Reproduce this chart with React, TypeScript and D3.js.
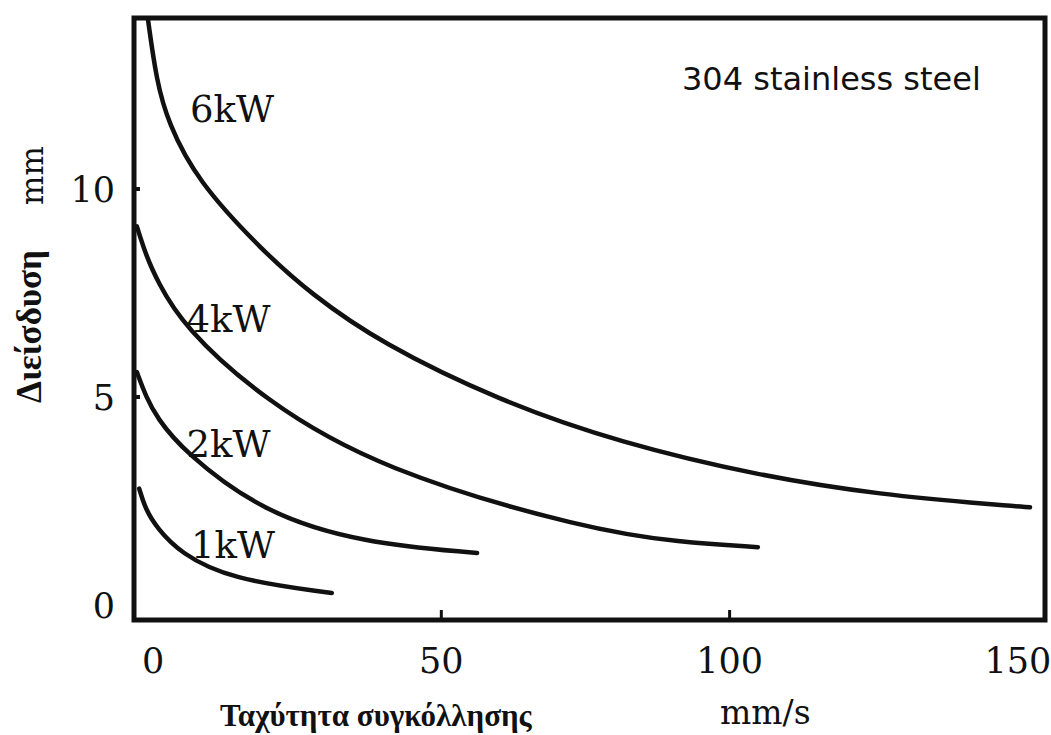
import React, { useEffect, useRef } from "react";
import * as d3 from "d3";

// penetration (mm) vs welding speed (mm/s)
const series = ["6kW", "4kW", "2kW", "1kW"];
const curve6kW: [number, number][] = [
  [-0.9, 14.1], [0.6, 12.6], [2.6, 11.6], [7.6, 10.2], [19.1, 8.5], [27.2, 7.5], [39.4, 6.3],
  [60.2, 4.9], [81.0, 3.9], [105.3, 3.1], [126.1, 2.65], [146.9, 2.4], [152.1, 2.35],
];
const curve4kW: [number, number][] = [
  [-2.8, 9.1], [-1.2, 8.4], [0.7, 7.8], [5.2, 6.7], [19.1, 4.93], [39.4, 3.25],
  [75.8, 1.8], [91.4, 1.51], [104.9, 1.39],
];
const curve2kW: [number, number][] = [
  [-2.8, 5.6], [-1.2, 5.0], [0.7, 4.5], [5.2, 3.7], [19.1, 2.21], [36.4, 1.49], [56.2, 1.25],
];
const curve1kW: [number, number][] = [
  [-2.4, 2.8], [-1.3, 2.3], [0.7, 1.85], [4.7, 1.25], [13.4, 0.62], [31.0, 0.29],
];
const curves = [curve6kW, curve4kW, curve2kW, curve1kW];

const xTicks = [0, 50, 100, 150];
const yTicks = [0, 5, 10];
const xMarks = [50, 100];
const yMarks = [5, 10];

const material = "304 stainless steel";
const xTitle = "Ταχύτητα συγκόλλησης";
const xUnit = "mm/s";
const yTitle = "Διείσδυση";
const yUnit = "mm";

const width = 1051;
const height = 735;
const frame = { left: 134, right: 1045, top: 18, bottom: 620 };

// where each power label sits, in data units
const labelAt: Record<string, [number, number]> = {
  "6kW": [6.4, 11.6],
  "4kW": [5.8, 6.56],
  "2kW": [5.8, 3.56],
  "1kW": [6.6, 1.13],
};

const App = () => {
  const ref = useRef<SVGSVGElement>(null);

  useEffect(() => {
    const svg = d3.select(ref.current);
    svg.selectAll("*").remove();

    const x = d3.scaleLinear().domain([-3.3, 154.7]).range([frame.left, frame.right]);
    const y = d3.scaleLinear().domain([-0.36, 14.11]).range([frame.bottom, frame.top]);

    const tickFont = "'DejaVu Serif', serif";

    // curves
    const line = d3
      .line<[number, number]>()
      .x((d) => x(d[0]))
      .y((d) => y(d[1]))
      .curve(d3.curveBasis);

    svg
      .append("g")
      .selectAll("path")
      .data(curves)
      .join("path")
      .attr("d", (d) => line(d))
      .attr("fill", "none")
      .attr("stroke", "#111")
      .attr("stroke-width", 4.5)
      .attr("stroke-linecap", "round");

    // frame
    svg
      .append("rect")
      .attr("x", frame.left)
      .attr("y", frame.top)
      .attr("width", frame.right - frame.left)
      .attr("height", frame.bottom - frame.top)
      .attr("fill", "none")
      .attr("stroke", "#111")
      .attr("stroke-width", 5);

    // small inner tick marks
    svg
      .append("g")
      .selectAll("line")
      .data(xMarks)
      .join("line")
      .attr("x1", (d) => x(d))
      .attr("x2", (d) => x(d))
      .attr("y1", frame.bottom)
      .attr("y2", frame.bottom - 10)
      .attr("stroke", "#111")
      .attr("stroke-width", 3);

    svg
      .append("g")
      .selectAll("line")
      .data(yMarks)
      .join("line")
      .attr("x1", frame.left)
      .attr("x2", frame.left + 6)
      .attr("y1", (d) => y(d))
      .attr("y2", (d) => y(d))
      .attr("stroke", "#111")
      .attr("stroke-width", 4);

    // tick labels
    svg
      .append("g")
      .attr("font-family", tickFont)
      .attr("font-size", 35)
      .attr("fill", "#111")
      .attr("text-anchor", "middle")
      .selectAll("text")
      .data(xTicks)
      .join("text")
      .attr("x", (d) => x(d))
      .attr("y", 673)
      .text((d) => d);

    svg
      .append("g")
      .attr("font-family", tickFont)
      .attr("font-size", 35)
      .attr("fill", "#111")
      .attr("text-anchor", "end")
      .selectAll("text")
      .data(yTicks)
      .join("text")
      .attr("x", 115)
      .attr("y", (d) => y(d) + 13)
      .text((d) => d);

    // power labels
    svg
      .append("g")
      .attr("font-family", tickFont)
      .attr("font-size", 37)
      .attr("fill", "#111")
      .selectAll("text")
      .data(series)
      .join("text")
      .attr("x", (d) => x(labelAt[d][0]))
      .attr("y", (d) => y(labelAt[d][1]))
      .text((d) => d);

    svg
      .append("text")
      .attr("x", 682)
      .attr("y", 90)
      .attr("font-family", "'DejaVu Sans', sans-serif")
      .attr("font-size", 32)
      .attr("fill", "#111")
      .text(material);

    // axis titles
    svg
      .append("text")
      .attr("x", 220)
      .attr("y", 726)
      .attr("font-family", "'Liberation Serif', serif")
      .attr("font-weight", "bold")
      .attr("font-size", 31)
      .attr("fill", "#111")
      .text(xTitle);

    svg
      .append("text")
      .attr("x", 720)
      .attr("y", 724)
      .attr("font-family", tickFont)
      .attr("font-size", 33)
      .attr("fill", "#111")
      .text(xUnit);

    svg
      .append("text")
      .attr("transform", "translate(41,403) rotate(-90)")
      .attr("font-family", "'Liberation Serif', serif")
      .attr("font-weight", "bold")
      .attr("font-size", 35)
      .attr("fill", "#111")
      .text(yTitle);

    svg
      .append("text")
      .attr("transform", "translate(43,205) rotate(-90)")
      .attr("font-family", tickFont)
      .attr("font-size", 31)
      .attr("fill", "#111")
      .text(yUnit);
  }, []);

  return (
    <svg
      ref={ref}
      width={width}
      height={height}
      style={{ position: "absolute", left: 0, top: 0, background: "#fff" }}
    ></svg>
  );
};

export default App;
